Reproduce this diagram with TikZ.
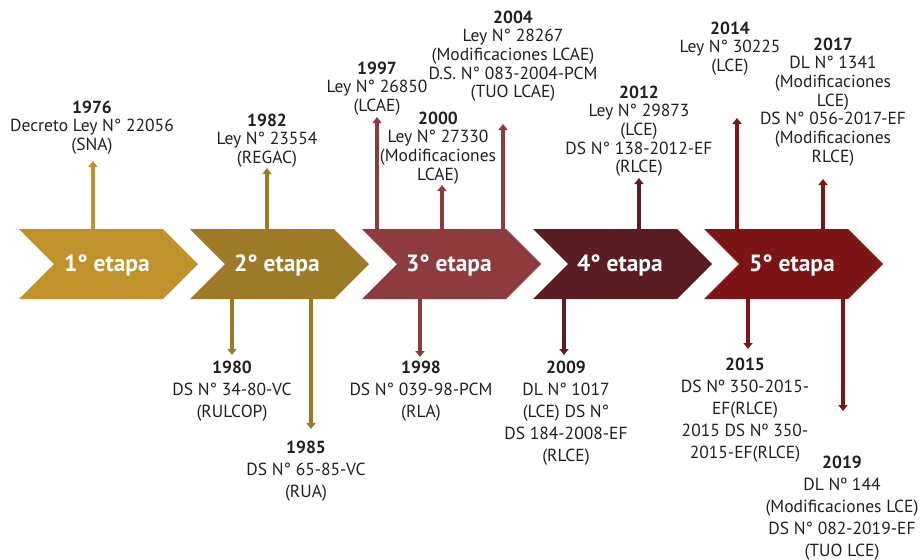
\documentclass[tikz,border=0pt]{standalone}
\usepackage{fontspec}
\setmainfont{PT Sans}
\usetikzlibrary{arrows.meta}
\definecolor{cA}{HTML}{C0922B}
\definecolor{cB}{HTML}{9C7A27}
\definecolor{cC}{HTML}{8E3B3E}
\definecolor{cD}{HTML}{5A1D22}
\definecolor{cE}{HTML}{7D1416}
\definecolor{txt}{HTML}{231F20}
\tikzset{
  lbl/.style={align=center, inner sep=0pt, anchor=north, text=txt, font=\fontsize{17.5}{18.7}\selectfont},
  lblb/.style={lbl, font=\fontsize{17.5}{22}\selectfont},
  stagelbl/.style={text=white, inner sep=0pt, font=\bfseries\fontsize{23.5}{23.5}\selectfont},
  arr/.style={line width=4pt, -{Triangle[width=9pt,length=6pt]}},
  pics/chevron/.style={code={
    \fill[#1] (0,0) -- (144,0) -- (179,35) -- (144,70) -- (0,70) -- (35,35) -- cycle;}}
}
\begin{document}
\begin{tikzpicture}[x=1pt,y=-1pt]
\useasboundingbox (0,0) rectangle (922,560);
% chevrons
\pic at (19,229) {chevron=cA};
\pic at (190,229) {chevron=cB};
\pic at (362,229) {chevron=cC};
\pic at (533,229) {chevron=cD};
\pic at (704,229) {chevron=cE};
\node[stagelbl] (s1) at (107,265) {1° etapa};
\node[stagelbl] (s2) at (277,265) {2° etapa};
\node[stagelbl] (s3) at (449,265) {3° etapa};
\node[stagelbl] (s4) at (620,265) {4° etapa};
\node[stagelbl] (s5) at (792,265) {5° etapa};
% arrow coordinates
\coordinate (f1976) at (93,231);  \coordinate (h1976) at (93,161);
\coordinate (f1982) at (267,231); \coordinate (h1982) at (267,168);
\coordinate (f1997) at (377,231); \coordinate (h1997) at (377,117);
\coordinate (f2000) at (442,231); \coordinate (h2000) at (442,185);
\coordinate (f2004) at (503,231); \coordinate (h2004) at (503,124);
\coordinate (f2012) at (639,231); \coordinate (h2012) at (639,178);
\coordinate (f2014) at (737,231); \coordinate (h2014) at (737,118);
\coordinate (f2017) at (823,231); \coordinate (h2017) at (823,179);
\coordinate (f1980) at (232,297); \coordinate (h1980) at (232,355);
\coordinate (f1985) at (311,297); \coordinate (h1985) at (311,429);
\coordinate (f1998) at (420,297); \coordinate (h1998) at (420,357);
\coordinate (f2009) at (564,297); \coordinate (h2009) at (564,355);
\coordinate (f2015) at (748,297); \coordinate (h2015) at (748,349);
\coordinate (f2019) at (843,297); \coordinate (h2019) at (843,411);
\draw[arr, cA] (f1976) -- (h1976);
\draw[arr, cB] (f1982) -- (h1982);
\draw[arr, cB] (f1980) -- (h1980);
\draw[arr, cB] (f1985) -- (h1985);
\draw[arr, cC] (f1997) -- (h1997);
\draw[arr, cC] (f2000) -- (h2000);
\draw[arr, cC] (f2004) -- (h2004);
\draw[arr, cC] (f1998) -- (h1998);
\draw[arr, cD] (f2009) -- (h2009);
\draw[arr, cD] (f2012) -- (h2012);
\draw[arr, cE] (f2014) -- (h2014);
\draw[arr, cE] (f2017) -- (h2017);
\draw[arr, cE] (f2015) -- (h2015);
\draw[arr, cE] (f2019) -- (h2019);
% texts above
\node[lbl] (t1976) at (92,100.5) {\textbf{1976}\\Decreto Ley N° 22056\\(SNA)};
\node[lbl] (t1982) at (267,113.5) {\textbf{1982}\\Ley N° 23554\\(REGAC)};
\node[lbl] (t1997) at (377,61.5) {\textbf{1997}\\Ley N° 26850\\(LCAE)};
\node[lbl] (t2000) at (438,111.5) {\textbf{2000}\\Ley N° 27330\\(Modificaciones\\LCAE)};
\node[lbl] (t2004) at (513,10.5) {\textbf{2004}\\Ley N° 28267\\(Modificaciones LCAE)\\D.S. N° 083-2004-PCM\\(TUO LCAE)};
\node[lbl] (t2012) at (639,85.5) {\textbf{2012}\\Ley N° 29873\\(LCE)\\DS N° 138-2012-EF\\(RLCE)};
\node[lbl] (t2014) at (730,21.5) {\textbf{2014}\\Ley N° 30225\\(LCE)};
\node[lbl] (t2017) at (833,37.5) {\textbf{2017}\\DL N° 1341\\(Modificaciones\\LCE)\\DS N° 056-2017-EF\\(Modificaciones\\RLCE)};
% texts below
\node[lblb] (t1980) at (232,360.5) {\textbf{1980}\\DS N° 34-80-VC\\(RULCOP)};
\node[lblb] (t1985) at (306,440.5) {\textbf{1985}\\DS N° 65-85-VC\\(RUA)};
\node[lblb] (t1998) at (421,360.5) {\textbf{1998}\\DS N° 039-98-PCM\\(RLA)};
\node[lblb] (t2009) at (566,360.5) {\textbf{2009}\\DL N° 1017\\(LCE) DS N°\\DS 184-2008-EF\\(RLCE)};
\node[lblb] (t2015) at (745,357.5) {\textbf{2015}\\DS Nº 350-2015-\\EF(RLCE)\\2015 DS Nº 350-\\2015-EF(RLCE)};
\node[lblb] (t2019) at (842,456) {\textbf{2019}\\DL Nº 144\\(Modificaciones LCE)\\DS N° 082-2019-EF\\(TUO LCE)};
\end{tikzpicture}
\end{document}
